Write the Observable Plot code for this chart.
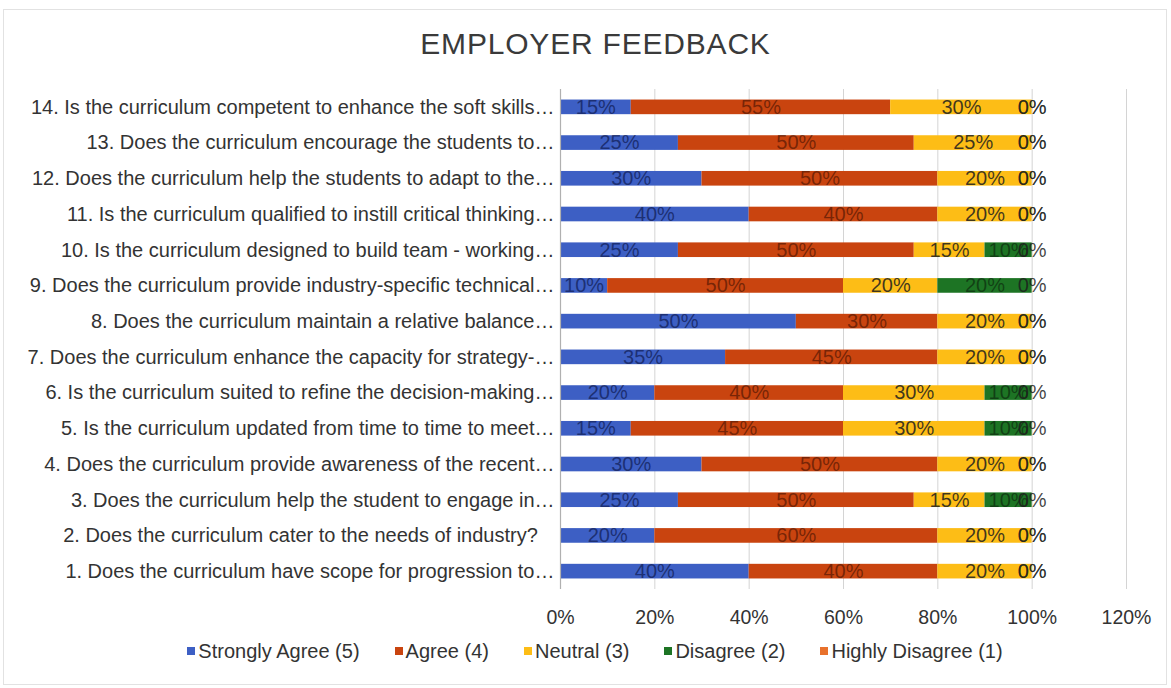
<!DOCTYPE html>
<html>
<head>
<meta charset="utf-8">
<script src="https://cdn.jsdelivr.net/npm/d3@7"></script>
<script src="https://cdn.jsdelivr.net/npm/@observablehq/plot@0.6"></script>
<style>
  html, body { margin: 0; padding: 0; background: #fff; }
  #wrap { position: relative; width: 1171px; height: 688px; font-family: "Liberation Sans", Arial, sans-serif; overflow: hidden; }
  #title { position: absolute; top: 27px; left: 0; width: 1171px; text-align: center; font-size: 30px; color: #3a3a3a; letter-spacing: 0.8px; padding-left: 20px; box-sizing: border-box; }
  #chart { position: absolute; top: 69px; left: 0; }
  #legend { position: absolute; top: 640px; left: 0; width: 1171px; display: flex; justify-content: center; gap: 35px; font-size: 20px; color: #333; padding-left: 19px; box-sizing: border-box; }
  #legend span.sw { display: inline-block; width: 8px; height: 8px; margin-right: 3px; vertical-align: 3px; }
  #frame { position: absolute; left: 3px; top: 9px; width: 1162px; height: 674px; border: 1px solid #e2e2e2; pointer-events: none; }
</style>
</head>
<body>
<div id="wrap">
  <div id="frame"></div>
  <div id="title">EMPLOYER FEEDBACK</div>
  <div id="chart"></div>
  <div id="legend"></div>
</div>
<script>
const questions = [
  "1. Does the curriculum have scope for progression to…",
  "2. Does the curriculum cater to the needs of industry?\u00A0\u00A0\u00A0",
  "3. Does the curriculum help the student to engage in…",
  "4. Does the curriculum provide awareness of the recent…",
  "5. Is the curriculum updated from time to time to meet…",
  "6. Is the curriculum suited to refine the decision-making…",
  "7. Does the curriculum enhance the capacity for strategy-…",
  "8. Does the curriculum maintain a relative balance…",
  "9. Does the curriculum provide industry-specific technical…",
  "10. Is the curriculum designed to build team - working…",
  "11. Is the curriculum qualified to instill critical thinking…",
  "12. Does the curriculum help the students to adapt to the…",
  "13. Does the curriculum encourage the students to…",
  "14. Is the curriculum competent to enhance the soft skills…"
];
const stronglyAgree  = [40, 20, 25, 30, 15, 20, 35, 50, 10, 25, 40, 30, 25, 15];
const agree          = [40, 60, 50, 50, 45, 40, 45, 30, 50, 50, 40, 50, 50, 55];
const neutral        = [20, 20, 15, 20, 30, 30, 20, 20, 20, 15, 20, 20, 25, 30];
const disagree       = [ 0,  0, 10,  0, 10, 10,  0,  0, 20, 10,  0,  0,  0,  0];
const highlyDisagree = [ 0,  0,  0,  0,  0,  0,  0,  0,  0,  0,  0,  0,  0,  0];
const seriesNames = ["Strongly Agree (5)", "Agree (4)", "Neutral (3)", "Disagree (2)", "Highly Disagree (1)"];
const seriesColors = ["#3d5fc4", "#c9440f", "#fdbd16", "#1d7424", "#e8712c"];
const labelColors = ["rgba(10,20,70,0.65)", "rgba(50,10,0,0.55)", "rgba(30,30,30,0.85)", "rgba(10,30,10,0.6)", "rgba(30,30,30,0.85)"];
const xTicks = [0, 0.2, 0.4, 0.6, 0.8, 1.0, 1.2];

const seriesValues = [stronglyAgree, agree, neutral, disagree, highlyDisagree];
const rows = [];
questions.forEach((q, i) => {
  seriesNames.forEach((s, j) => {
    rows.push({q, series: s, value: seriesValues[j][i] / 100, lc: labelColors[j]});
  });
});

const chart = Plot.plot({
  width: 1171,
  height: 562,
  marginLeft: 560,
  marginRight: 45,
  marginTop: 20,
  marginBottom: 42,
  style: {fontFamily: "'Liberation Sans', Arial, sans-serif", fontSize: "20px", color: "#333", background: "transparent"},
  x: {domain: [0, 1.2]},
  y: {domain: questions.slice().reverse(), paddingInner: 0.59, paddingOuter: 0.295, round: false},
  color: {domain: seriesNames, range: seriesColors},
  marks: [
    Plot.gridX(xTicks, {stroke: "#d4d4d4", strokeOpacity: 1, strokeWidth: 1}),
    Plot.barX(rows, Plot.stackX({x: "value", y: "q", fill: "series", order: seriesNames})),
    Plot.ruleX([0], {stroke: "#b0b0b0", strokeWidth: 1.2}),
    Plot.text(rows, Plot.stackX({x: "value", y: "q", z: "series", order: seriesNames,
      text: d => Math.round(d.value * 100) + "%", fill: "lc", fontSize: 20})),
    Plot.axisX({ticks: xTicks, tickFormat: d => Math.round(d * 100) + "%", tickSize: 0, tickPadding: 21, fontSize: 19.5, label: null}),
    Plot.axisY({tickSize: 0, tickPadding: 6, fontSize: 20, label: null})
  ]
});
document.getElementById("chart").appendChild(chart);

const legend = document.getElementById("legend");
seriesNames.forEach((s, j) => {
  const item = document.createElement("div");
  item.innerHTML = `<span class="sw" style="background:${seriesColors[j]}"></span>${s}`;
  legend.appendChild(item);
});
</script>
</body>
</html>
